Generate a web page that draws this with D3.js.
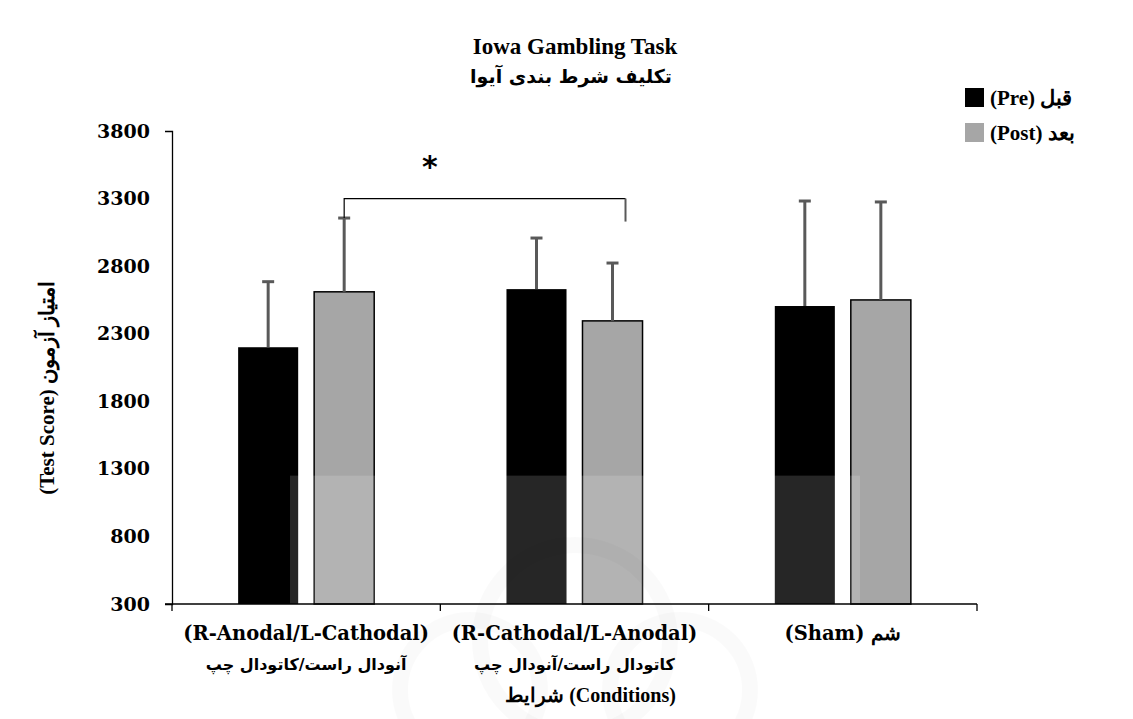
<!DOCTYPE html>
<html>
<head>
<meta charset="utf-8">
<script src="https://cdn.jsdelivr.net/npm/d3@7"></script>
<style>
  body { margin: 0; background: #fff; }
  svg { display: block; }
  .tick text { font-family: "DejaVu Serif", serif; font-weight: bold; font-size: 19px; fill: #000; }
</style>
</head>
<body>
<div id="chart"></div>
<script>
// data
var categories = ["(R-Anodal/L-Cathodal)", "(R-Cathodal/L-Anodal)", "(Sham) شم"];
var persianLabels = ["آنودال راست/کاتودال چپ", "کاتودال راست/آنودال چپ", ""];
var series = ["pre", "post"];
var seriesLabels = ["(Pre) قبل", "(Post) بعد"];
var preMeans = [2200, 2630, 2505];
var postMeans = [2610, 2395, 2550];
var preErr = [485, 378, 777];
var postErr = [546, 428, 725];
var yTicks = [300, 800, 1300, 1800, 2300, 2800, 3300, 3800];

var width = 1133, height = 719;
var margin = {top: 131, right: 156, bottom: 115, left: 172};
var colors = {pre: "#000000", post: "#a6a6a6"};

var svg = d3.select("#chart").append("svg")
  .attr("width", width)
  .attr("height", height);

var x0 = d3.scaleBand()
  .domain(categories)
  .range([margin.left, width - margin.right]);

var x1 = d3.scaleBand()
  .domain(series)
  .range([0, x0.bandwidth()])
  .paddingInner(0.21)
  .paddingOuter(0.87);

var y = d3.scaleLinear()
  .domain([300, 3800])
  .range([height - margin.bottom, margin.top]);

var rows = categories.map(function(c, i){
  return {cat: c, values: [
    {key: "pre", v: preMeans[i], e: preErr[i]},
    {key: "post", v: postMeans[i], e: postErr[i]}
  ]};
});

// y axis
svg.append("g")
  .attr("transform", "translate(" + margin.left + ",0)")
  .call(d3.axisLeft(y).tickValues(yTicks).tickSize(0).tickSizeOuter(7).tickPadding(22).tickFormat(d3.format("d")))
  .call(function(g){ g.select(".domain").attr("stroke", "#000").attr("stroke-width", 1.3); });

// bars
var groups = svg.append("g").selectAll("g")
  .data(rows)
  .join("g")
  .attr("transform", function(d){ return "translate(" + x0(d.cat) + ",0)"; });

groups.selectAll("rect")
  .data(function(d){ return d.values; })
  .join("rect")
  .attr("x", function(d){ return x1(d.key); })
  .attr("y", function(d){ return y(d.v); })
  .attr("width", x1.bandwidth())
  .attr("height", function(d){ return y(300) - y(d.v); })
  .attr("fill", function(d){ return colors[d.key]; })
  .attr("stroke", function(d){ return d.key == "post" ? "#000" : "none"; })
  .attr("stroke-width", 1.5);

// error bars (upper only)
groups.selectAll("line.err")
  .data(function(d){ return d.values; })
  .join("line")
  .attr("class", "err")
  .attr("x1", function(d){ return x1(d.key) + x1.bandwidth()/2; })
  .attr("x2", function(d){ return x1(d.key) + x1.bandwidth()/2; })
  .attr("y1", function(d){ return y(d.v); })
  .attr("y2", function(d){ return y(d.v + d.e); })
  .attr("stroke", "#595959")
  .attr("stroke-width", 3);

groups.selectAll("line.cap")
  .data(function(d){ return d.values; })
  .join("line")
  .attr("class", "cap")
  .attr("x1", function(d){ return x1(d.key) + x1.bandwidth()/2 - 6; })
  .attr("x2", function(d){ return x1(d.key) + x1.bandwidth()/2 + 6; })
  .attr("y1", function(d){ return y(d.v + d.e); })
  .attr("y2", function(d){ return y(d.v + d.e); })
  .attr("stroke", "#595959")
  .attr("stroke-width", 3);

// faint watermark overlay
var wm = svg.append("g").attr("pointer-events", "none");
wm.append("rect")
  .attr("x", x0(categories[0]) + 118).attr("y", y(1250))
  .attr("width", 570).attr("height", height - y(1250))
  .attr("fill", "#fff").attr("opacity", 0.15);
[[575, 640, 95], [470, 690, 70], [680, 690, 70]].forEach(function(c){
  wm.append("circle").attr("cx", c[0]).attr("cy", c[1]).attr("r", c[2])
    .attr("fill", "none").attr("stroke", "#000").attr("stroke-opacity", 0.02).attr("stroke-width", 16);
});

// x axis
var xAxis = svg.append("g");
xAxis.append("line")
  .attr("x1", margin.left - 7).attr("x2", width - margin.right)
  .attr("y1", y(300)).attr("y2", y(300))
  .attr("stroke", "#000").attr("stroke-width", 1.3);
var bounds = categories.map(function(c){ return x0(c); }).concat([x0.range()[1]]);
xAxis.selectAll("line.xt")
  .data(bounds)
  .join("line")
  .attr("class", "xt")
  .attr("x1", function(d){ return d; }).attr("x2", function(d){ return d; })
  .attr("y1", y(300)).attr("y2", y(300) + 7)
  .attr("stroke", "#000").attr("stroke-width", 1.3);

xAxis.selectAll("text.cat")
  .data(categories)
  .join("text")
  .attr("class", "cat")
  .attr("x", function(d){ return x0(d) + x0.bandwidth()/2; })
  .attr("y", 640)
  .attr("text-anchor", "middle")
  .style("font-family", "'DejaVu Serif', serif")
  .style("font-weight", "bold")
  .style("font-size", "19.5px")
  .text(function(d){ return d; });

xAxis.selectAll("text.fa")
  .data(categories)
  .join("text")
  .attr("class", "fa")
  .attr("x", function(d){ return x0(d) + x0.bandwidth()/2; })
  .attr("y", 670)
  .attr("text-anchor", "middle")
  .attr("direction", "rtl")
  .style("font-family", "'DejaVu Sans', sans-serif")
  .style("font-weight", "bold")
  .style("font-size", "16px")
  .text(function(d, i){ return persianLabels[i]; });

// x axis title
svg.append("text")
  .attr("x", x0(categories[1]) + x0.bandwidth()/2 + 16)
  .attr("y", 702)
  .attr("text-anchor", "middle")
  .style("font-family", "'Liberation Serif', serif")
  .style("font-weight", "bold")
  .style("font-size", "20px")
  .text("شرایط  (Conditions)");

// y axis title
svg.append("text")
  .attr("transform", "translate(54," + y(1900) + ") rotate(-90)")
  .attr("text-anchor", "middle")
  .style("font-family", "'Liberation Serif', serif")
  .style("font-weight", "bold")
  .style("font-size", "21px")
  .text("(Test Score) امتیاز آزمون");

// title
svg.append("text")
  .attr("x", 575).attr("y", 54)
  .attr("text-anchor", "middle")
  .style("font-family", "'Liberation Serif', serif")
  .style("font-weight", "bold")
  .style("font-size", "23px")
  .text("Iowa Gambling Task");
svg.append("text")
  .attr("x", 571).attr("y", 83)
  .attr("text-anchor", "middle")
  .attr("direction", "rtl")
  .style("font-family", "'DejaVu Sans', sans-serif")
  .style("font-weight", "bold")
  .style("font-size", "19px")
  .text("تکلیف شرط بندی آیوا");

// significance bracket between R-Anodal post and R-Cathodal post
var bx1 = x0(categories[0]) + x1("post") + x1.bandwidth()/2;
var bx2 = x0(categories[1]) + x1("post") + x1.bandwidth()/2 + 13;
var by = y(3300);
svg.append("path")
  .attr("d", "M" + bx1 + "," + y(postMeans[0] + postErr[0]) + "V" + by + "H" + bx2)
  .attr("fill", "none").attr("stroke", "#000").attr("stroke-width", 1.2);
svg.append("line")
  .attr("x1", bx2).attr("x2", bx2)
  .attr("y1", by).attr("y2", by + 23)
  .attr("stroke", "#595959").attr("stroke-width", 2);
svg.append("text")
  .attr("x", (bx1 + bx2)/2 - 55).attr("y", y(3300) - 22)
  .attr("text-anchor", "middle")
  .style("font-family", "'DejaVu Sans', sans-serif")
  .style("font-weight", "bold")
  .style("font-size", "30px")
  .text("*");

// legend
var legend = svg.append("g")
  .attr("transform", "translate(965,88)");
var li = legend.selectAll("g")
  .data(series)
  .join("g")
  .attr("transform", function(d, i){ return "translate(0," + (i * 35) + ")"; });
li.append("rect")
  .attr("width", 19).attr("height", 19)
  .attr("fill", function(d){ return colors[d]; });
li.append("text")
  .attr("x", 25).attr("y", 17)
  .style("font-family", "'Liberation Serif', serif")
  .style("font-weight", "bold")
  .style("font-size", "21px")
  .text(function(d, i){ return seriesLabels[i]; });
</script>
</body>
</html>
